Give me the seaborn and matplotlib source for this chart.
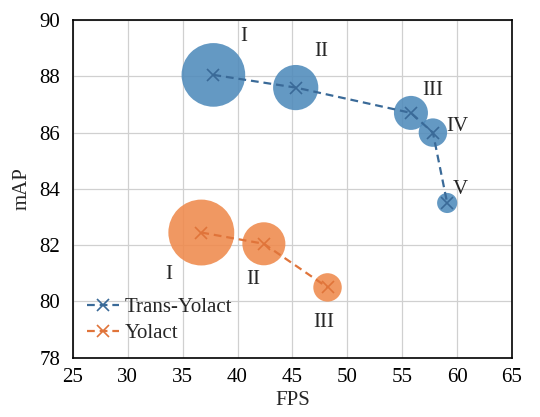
import matplotlib
matplotlib.use("Agg")
import matplotlib.pyplot as plt
import seaborn as sns
import pandas as pd

# Data
trans_fps = [37.8, 45.3, 55.8, 57.8, 59.1]
trans_map = [88.05, 87.6, 86.7, 86.0, 83.5]
trans_bubble = [2100, 1060, 600, 420, 210]   # bubble area (pt^2)
trans_labels = ["I", "II", "III", "IV", "V"]

yolact_fps = [36.7, 42.4, 48.2]
yolact_map = [82.45, 82.05, 80.5]
yolact_bubble = [2250, 960, 420]
yolact_labels = ["I", "II", "III"]

x_ticks = [25, 30, 35, 40, 45, 50, 55, 60, 65]
y_ticks = [78, 80, 82, 84, 86, 88, 90]

sns.set_style("white")
plt.rcParams["font.family"] = ["Liberation Serif", "DejaVu Serif"]

df_t = pd.DataFrame({"FPS": trans_fps, "mAP": trans_map, "area": trans_bubble})
df_y = pd.DataFrame({"FPS": yolact_fps, "mAP": yolact_map, "area": yolact_bubble})

blue_fill = "#4f8bbb"
blue_line = "#3a6a98"
orange_fill = "#ef8a4c"
orange_line = "#e0743a"

fig, ax = plt.subplots(figsize=(5.4, 4.17), dpi=100)
fig.subplots_adjust(left=0.135, right=0.948, top=0.952, bottom=0.142)

ax.grid(True, color="#d0d0d0", linewidth=0.9, zorder=0)
ax.set_axisbelow(True)

for df, fill in [(df_t, blue_fill), (df_y, orange_fill)]:
    ax.scatter(df["FPS"], df["mAP"], s=df["area"], color=fill, alpha=0.88,
               edgecolor="none", zorder=2)

for df, col, lab in [(df_t, blue_line, "Trans-Yolact"), (df_y, orange_line, "Yolact")]:
    sns.lineplot(data=df, x="FPS", y="mAP", ax=ax, color=col, linestyle=(0, (3.5, 2.2)),
                 marker="x", markersize=9, markeredgewidth=1.2, markeredgecolor=col,
                 linewidth=1.6, label=lab, zorder=3, sort=False)

fs = 15
t_off = [(2.8, 1.35), (2.3, 1.27), (2.0, 0.8), (2.2, 0.2), (1.2, 0.47)]
for x, y, lab, (dx, dy) in zip(trans_fps, trans_map, trans_labels, t_off):
    ax.text(x + dx, y + dy, lab, fontsize=fs, ha="center", va="center")
y_off = [(-3.0, -1.5), (-1.0, -1.27), (-0.3, -1.25)]
for x, y, lab, (dx, dy) in zip(yolact_fps, yolact_map, yolact_labels, y_off):
    ax.text(x + dx, y + dy, lab, fontsize=fs, ha="center", va="center")

ax.set_xlim(25, 65)
ax.set_ylim(78, 90)
ax.set_xticks(x_ticks)
ax.set_yticks(y_ticks)
ax.tick_params(axis="both", direction="in", labelsize=fs, length=4, width=1, colors="black")
ax.tick_params(axis="x", pad=7)
ax.tick_params(axis="y", pad=9)
for sp in ax.spines.values():
    sp.set_color("black")
    sp.set_linewidth(1.2)
ax.set_xlabel("FPS", fontsize=fs, labelpad=3)
ax.set_ylabel("mAP", fontsize=fs, labelpad=6)

leg = ax.legend(loc="lower left", frameon=False, fontsize=fs, handlelength=1.5,
                handletextpad=0.3, borderaxespad=0.3, labelspacing=0.3,
                bbox_to_anchor=(0.0, 0.0))

fig.savefig("out.png", dpi=100)
